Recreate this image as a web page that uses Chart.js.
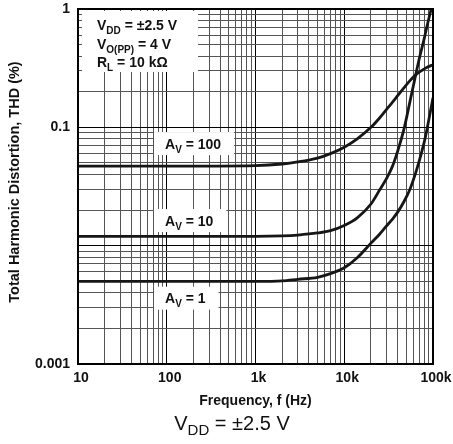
<!DOCTYPE html>
<html><head><meta charset="utf-8">
<script src="https://cdn.jsdelivr.net/npm/chart.js@4/dist/chart.umd.min.js"></script>
<style>html,body{margin:0;padding:0;background:#fff}#wrap{width:453px;height:444px;position:relative}</style>
</head><body><div id="wrap"><canvas id="c"></canvas></div>
<script>
// ---- data ----
const frequencies = [10,100,1000,2000,3000,5000,7000,10000,14000,20000,25000,30000,35000,40000,47000,55000,63000,70000,80000,85000,100000];
const thdAv100 = [0.047,0.047,0.0475,0.049,0.051,0.055,0.06,0.068,0.08,0.1,0.12,0.142,0.163,0.185,0.215,0.248,0.275,0.293,0.312,0.32,0.338];
const thdAv10  = [0.012,0.012,0.012,0.0121,0.0123,0.0128,0.0134,0.0148,0.0172,0.0225,0.0295,0.037,0.047,0.063,0.096,0.165,0.265,0.38,0.57,0.7,1.15];
const thdAv1   = [0.005,0.005,0.005,0.00505,0.0052,0.0054,0.0058,0.0065,0.0079,0.0105,0.0125,0.0147,0.0168,0.0192,0.0235,0.03,0.04,0.052,0.076,0.094,0.178];
const seriesGains = ['100','10','1'];
const xTickValues = [10,100,1000,10000,100000];
const xTickLabels = ['10','100','1k','10k','100k'];
const yTickValues = [0.001,0.1,1];
const yTickLabels = ['0.001','0.1','1'];
const xTitle = 'Frequency, f (Hz)';
const yTitle = 'Total Harmonic Distortion, THD (%)';
const conditionLines = [
  [['V',0],['DD',1],[' = \u00B12.5 V',0]],
  [['V',0],['O(PP)',1],[' = 4 V',0]],
  [['R',0],['L',1],[' = 10 k\u03A9',0]]
];
const captionParts = [['V',0],['DD',1],[' = \u00B12.5 V',0]];

// ---- helpers ----
const FONT = '"Liberation Sans", Arial, Helvetica, sans-serif';
function isDecade(v){ const l = Math.log10(v); return Math.abs(l - Math.round(l)) < 1e-9; }
function logTicks(min, max){
  const out = [];
  for (let e = Math.round(Math.log10(min)); e < Math.round(Math.log10(max)); e++)
    for (let m = 1; m <= 9; m++) out.push({value: Number((m*Math.pow(10,e)).toPrecision(6))});
  out.push({value:max});
  return out;
}
function findIdx(arr, v){ return arr.findIndex(a => Math.abs(a - v)/a < 1e-6); }
function richWidth(ctx, parts, size, sub, weight){
  let w = 0;
  for (const [t,s] of parts){ ctx.font = `${weight} ${s?sub:size}px ${FONT}`; w += ctx.measureText(t).width; }
  return w;
}
function drawRich(ctx, parts, x, y, size, sub, dy, weight){
  let cx = x;
  ctx.textBaseline = 'alphabetic'; ctx.textAlign = 'left';
  for (const [t,s] of parts){
    ctx.font = `${weight} ${s?sub:size}px ${FONT}`;
    ctx.fillText(t, cx, y + (s?dy:0));
    cx += ctx.measureText(t).width;
  }
  return cx - x;
}

const overlay = {
  id: 'overlay',
  beforeDatasetsDraw(chart){
    const {ctx, chartArea:a, scales:{x, y}} = chart;
    ctx.save();
    // conditions box
    ctx.fillStyle = '#fff';
    ctx.fillRect(a.left + 4, a.top + 2, 116, 61);
    ctx.fillStyle = '#111';
    conditionLines.forEach((parts, i) => drawRich(ctx, parts, a.left + 19, a.top + 21 + i*18.5, 14, 10, 4, 'bold'));
    // series labels
    const labelFreq = 95.6;
    const labelThd = [0.0729, 0.0163, 0.0036];
    seriesGains.forEach((g, i) => {
      const parts = [['A',0],['V',1],[' = ' + g,0]];
      const tx = x.getPixelForValue(labelFreq);
      const cy = y.getPixelForValue(labelThd[i]);
      const w = richWidth(ctx, parts, 14, 10, 'bold');
      ctx.fillStyle = '#fff';
      ctx.fillRect(tx - 11, cy - 11.5, w + 24, 23);
      ctx.fillStyle = '#111';
      drawRich(ctx, parts, tx, cy + 5, 14, 10, 4, 'bold');
    });
    ctx.restore();
  },
  afterDatasetsDraw(chart){
    const {ctx, chartArea:a} = chart;
    ctx.save();
    ctx.strokeStyle = '#000'; ctx.lineWidth = 2;
    ctx.strokeRect(a.left, a.top, a.right - a.left, a.bottom - a.top);
    ctx.restore();
  },
  afterDraw(chart){
    const {ctx, chartArea:a} = chart;
    ctx.save();
    ctx.fillStyle = '#111';
    ctx.font = `bold 14px ${FONT}`;
    ctx.textAlign = 'center'; ctx.textBaseline = 'middle';
    ctx.fillText(xTitle, (a.left + a.right)/2, 401);
    ctx.save();
    ctx.font = `bold 14.5px ${FONT}`;
    ctx.translate(15, 182);
    ctx.rotate(-Math.PI/2);
    ctx.fillText(yTitle, 0, 0);
    ctx.restore();
    const w = richWidth(ctx, captionParts, 20, 15, 'normal');
    drawRich(ctx, captionParts, 232 - w/2, 430, 20, 15, 5, 'normal');
    ctx.restore();
  }
};

const mk = (vals) => frequencies.map((f, i) => ({x: f, y: vals[i]}));
const lineStyle = {borderColor:'#161616', borderWidth:2.8, pointRadius:0, fill:false, cubicInterpolationMode:'monotone'};

new Chart(document.getElementById('c'), {
  type: 'line',
  data: { datasets: [
    Object.assign({label:'AV = 100', data: mk(thdAv100)}, lineStyle),
    Object.assign({label:'AV = 10', data: mk(thdAv10)}, lineStyle),
    Object.assign({label:'AV = 1', data: mk(thdAv1)}, lineStyle)
  ]},
  options: {
    responsive: true, maintainAspectRatio: false, animation: false,
    layout: {padding: {top: 9, right: 20, left: 0, bottom: 0}},
    plugins: {legend: {display: false}, tooltip: {enabled: false}},
    scales: {
      x: {
        type: 'logarithmic', min: 10, max: 100000,
        afterBuildTicks: s => { s.ticks = logTicks(10, 100000); },
        afterFit: s => { s.height = 80; s.paddingLeft = 0; s.paddingRight = 0; },
        grid: {drawTicks: false, color: c => isDecade(c.tick.value) ? '#000' : '#555', lineWidth: 1},
        border: {display: false},
        ticks: {autoSkip: false, maxRotation: 0, padding: 6, labelOffset: 3, color: '#111',
          font: {family: FONT, size: 14, weight: 'bold'},
          callback: v => { const i = findIdx(xTickValues, v); return i >= 0 ? xTickLabels[i] : ''; }}
      },
      y: {
        type: 'logarithmic', min: 0.001, max: 1,
        afterBuildTicks: s => { s.ticks = logTicks(0.001, 1); },
        afterFit: s => { s.width = 78; s.paddingTop = 0; s.paddingBottom = 0; },
        grid: {drawTicks: false, color: c => isDecade(c.tick.value) ? '#000' : '#555', lineWidth: 1},
        border: {display: false},
        ticks: {autoSkip: false, padding: 8, color: '#111',
          font: {family: FONT, size: 14, weight: 'bold'},
          callback: v => { const i = findIdx(yTickValues, v); return i >= 0 ? yTickLabels[i] : ''; }}
      }
    }
  },
  plugins: [overlay]
});
</script>
</body></html>
